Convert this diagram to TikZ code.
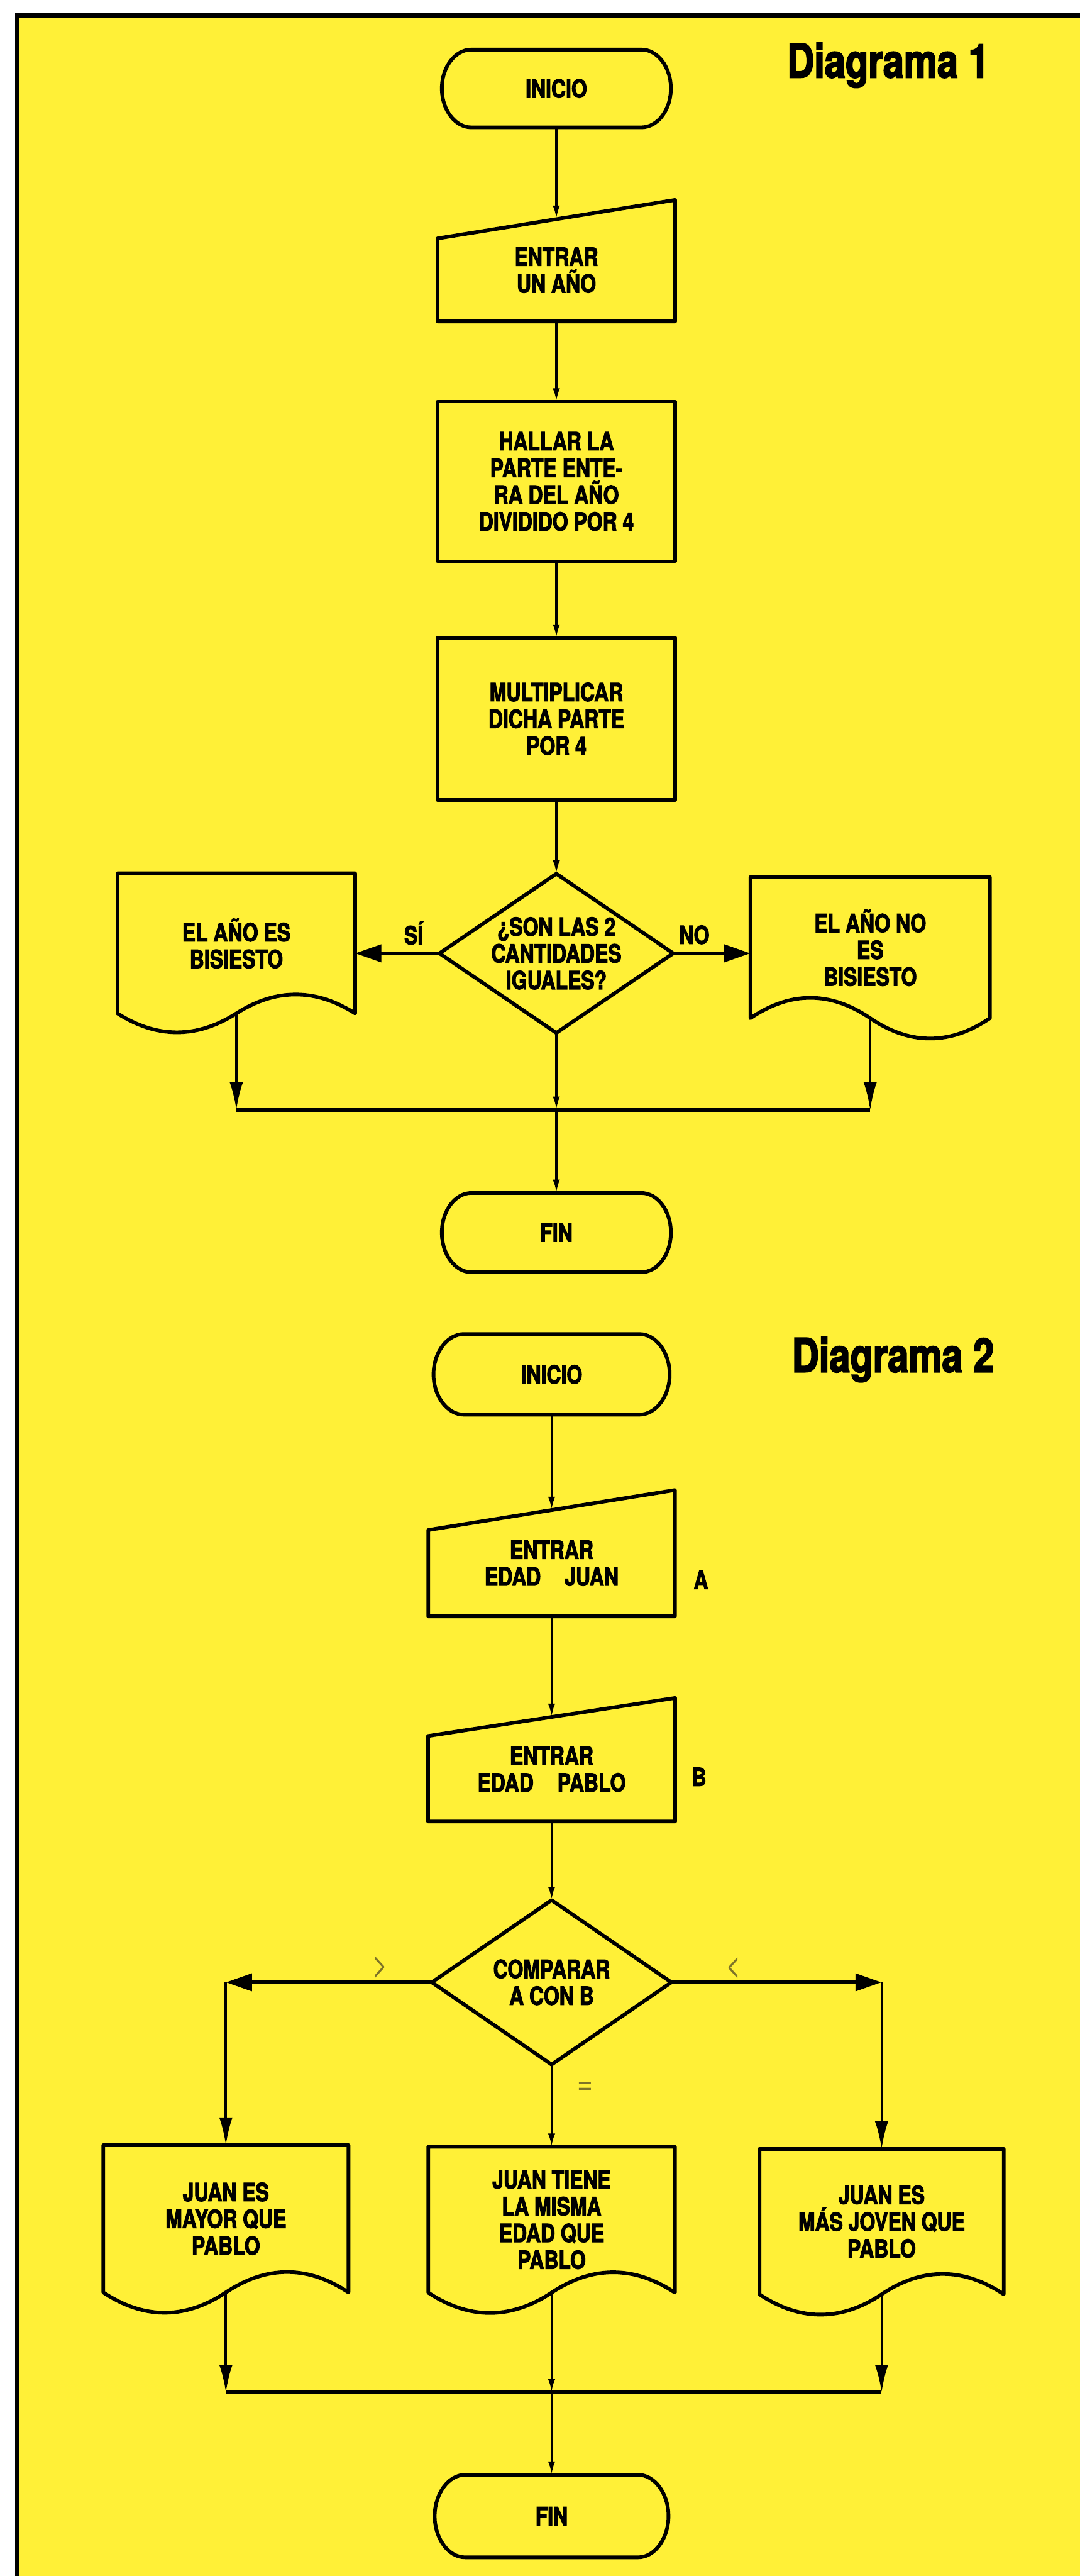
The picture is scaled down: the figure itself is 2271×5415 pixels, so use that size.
\documentclass[tikz,border=0pt]{standalone}
\usepackage{fontspec}
\setmainfont{TeX Gyre Heros}[FakeStretch=0.80,BoldFeatures={FakeBold=2.6}]
\usetikzlibrary{arrows.meta,calc}
\definecolor{pageyellow}{RGB}{255,240,55}
\definecolor{faintink}{RGB}{125,115,40}
\begin{document}
\begin{tikzpicture}[x=0.01cm,y=-0.01cm,
  shapenode/.style={draw=none,rectangle,inner sep=0pt,align=center,font=\bfseries\fontsize{15}{16}\selectfont},
  outl/.style={line width=2.2pt,line join=round,draw=black},
  cn/.style={line width=1.4pt,draw=black},
  hcn/.style={line width=2.1pt,draw=black},
  arsmall/.style={-{Latex[length=0.28cm,width=0.15cm]}},
  arside/.style={-{Latex[length=0.58cm,width=0.28cm]}},
  arbig/.style={-{Triangle[length=0.55cm,width=0.36cm]}},
  lab/.style={inner sep=0pt,font=\bfseries\fontsize{15}{16}\selectfont},
  symb/.style={inner sep=0pt,text=faintink,font=\fontsize{20}{20}\selectfont},
  ttl/.style={inner sep=0pt,anchor=base,font=\bfseries\fontsize{28}{30}\selectfont}
]
\useasboundingbox (0,0) rectangle (2271,5415);
\fill[white] (0,0) rectangle (2271,5415);
\fill[pageyellow] (36,32) rectangle (2271,5415);
\draw[line width=2.5pt] (36,5415) -- (36,32) -- (2271,32);

% ---------------- Diagrama 1 ----------------
\node[ttl] (t1) at (1868,163) {Diagrama 1};

\node[shapenode,minimum width=4.80cm,minimum height=1.62cm] (ini1) at (1170,186) {INICIO};
\node[shapenode,minimum width=4.98cm,minimum height=2.14cm] (in1) at (1170,568) {ENTRAR\\UN AÑO};
\node[shapenode,minimum width=4.97cm,minimum height=3.34cm] (p1) at (1170,1012) {HALLAR LA\\PARTE ENTE-\\RA DEL AÑO\\DIVIDIDO POR 4};
\node[shapenode,minimum width=4.98cm,minimum height=3.39cm] (p2) at (1170,1511) {MULTIPLICAR\\DICHA PARTE\\POR 4};
\node[shapenode,minimum width=4.90cm,minimum height=3.33cm] (dec1) at (1170,2004) {¿SON LAS 2\\CANTIDADES\\IGUALES?};
\node[shapenode,minimum width=4.98cm,minimum height=2.93cm] (dL1) at (497,1983) {EL AÑO ES\\BISIESTO};
\node[shapenode,minimum width=5.02cm,minimum height=2.95cm] (dR1) at (1830,1992) {EL AÑO NO\\ES\\BISIESTO};
\node[shapenode,minimum width=4.80cm,minimum height=1.65cm] (fin1) at (1170,2591) {FIN};

\node[lab] (si1) at (870,1961) {SÍ};
\node[lab] (no1) at (1460,1965) {NO};

% outlines D1
\draw[outl] ([shift={(62,0)}]ini1.north west) -- ([shift={(-62,0)}]ini1.north east)
  .. controls +(34,0) and +(0,-45) .. (ini1.east)
  .. controls +(0,45) and +(34,0) .. ([shift={(-62,0)}]ini1.south east)
  -- ([shift={(62,0)}]ini1.south west)
  .. controls +(-34,0) and +(0,45) .. (ini1.west)
  .. controls +(0,-45) and +(-34,0) .. ([shift={(62,0)}]ini1.north west) -- cycle;
\draw[outl] ([shift={(0,41)}]in1.north west) -- ([shift={(0,-40)}]in1.north east) -- (in1.south east) -- (in1.south west) -- cycle;
\draw[outl] (p1.north west) rectangle (p1.south east);
\draw[outl] (p2.north west) rectangle (p2.south east);
\draw[outl] (dec1.north) -- (dec1.east) -- (dec1.south) -- (dec1.west) -- cycle;
\draw[outl] (dL1.south west) -- (dL1.north west) -- (dL1.north east) -- (dL1.south east)
  .. controls +(-83,-53) and +(83,-53) .. (dL1.south)
  .. controls +(-83,53) and +(83,53) .. (dL1.south west) -- cycle;
\draw[outl] (dR1.south west) -- (dR1.north west) -- (dR1.north east) -- (dR1.south east)
  .. controls +(-84,57) and +(84,57) .. (dR1.south)
  .. controls +(-84,-57) and +(84,-57) .. (dR1.south west) -- cycle;
\draw[outl] ([shift={(62,0)}]fin1.north west) -- ([shift={(-62,0)}]fin1.north east)
  .. controls +(34,0) and +(0,-46) .. (fin1.east)
  .. controls +(0,46) and +(34,0) .. ([shift={(-62,0)}]fin1.south east)
  -- ([shift={(62,0)}]fin1.south west)
  .. controls +(-34,0) and +(0,46) .. (fin1.west)
  .. controls +(0,-46) and +(-34,0) .. ([shift={(62,0)}]fin1.north west) -- cycle;

% connectors D1
\coordinate (m1c) at (1170,2333);
\coordinate (m1l) at (dL1.south |- m1c);
\coordinate (m1r) at (dR1.south |- m1c);
\draw[cn,arsmall] (ini1.south) -- (in1.north);
\draw[cn,arsmall] (in1.south) -- (p1.north);
\draw[cn,arsmall] (p1.south) -- (p2.north);
\draw[cn,arsmall] (p2.south) -- (dec1.north);
\draw[hcn,arbig] (dec1.west) -- (dec1.west -| dL1.east);
\draw[hcn,arbig] (dec1.east) -- (dec1.east -| dR1.west);
\draw[cn,arside] (dL1.south) -- (m1l);
\draw[cn,arside] (dR1.south) -- (m1r);
\draw[hcn] (m1l) -- (m1r);
\draw[cn,arsmall] (dec1.south) -- (m1c);
\draw[cn,arsmall] (m1c) -- (fin1.north);

% ---------------- Diagrama 2 ----------------
\node[ttl] (t2) at (1878,2884) {Diagrama 2};

\node[shapenode,minimum width=4.95cm,minimum height=1.68cm] (ini2) at (1160,2889) {INICIO};
\node[shapenode,minimum width=5.17cm,minimum height=2.22cm] (in2) at (1160,3286) {ENTRAR\\EDAD\hspace{0.5cm}JUAN};
\node[shapenode,minimum width=5.18cm,minimum height=2.18cm] (in3) at (1160,3719) {ENTRAR\\EDAD\hspace{0.5cm}PABLO};
\node[shapenode,minimum width=5.02cm,minimum height=3.44cm] (dec2) at (1160,4167) {COMPARAR\\A CON B};
\node[shapenode,minimum width=5.14cm,minimum height=3.08cm] (dL2) at (475,4664) {JUAN ES\\MAYOR QUE\\PABLO};
\node[shapenode,minimum width=5.17cm,minimum height=3.05cm] (dM2) at (1160,4666) {JUAN TIENE\\LA MISMA\\EDAD QUE\\PABLO};
\node[shapenode,minimum width=5.12cm,minimum height=3.04cm] (dR2) at (1854,4670) {JUAN ES\\MÁS JOVEN QUE\\PABLO};
\node[shapenode,minimum width=4.90cm,minimum height=1.72cm] (fin2) at (1160,5289) {FIN};

\node[lab] (la) at (1474,3321) {A};
\node[lab] (lb) at (1470,3735) {B};
\node[symb] (gt) at (800,4135) {>};
\node[symb] (lt) at (1543,4137) {<};
\node[symb] (eq) at (1231,4390) {=};

% outlines D2
\draw[outl] ([shift={(64,0)}]ini2.north west) -- ([shift={(-64,0)}]ini2.north east)
  .. controls +(35,0) and +(0,-46) .. (ini2.east)
  .. controls +(0,46) and +(35,0) .. ([shift={(-64,0)}]ini2.south east)
  -- ([shift={(64,0)}]ini2.south west)
  .. controls +(-35,0) and +(0,46) .. (ini2.west)
  .. controls +(0,-46) and +(-35,0) .. ([shift={(64,0)}]ini2.north west) -- cycle;
\draw[outl] ([shift={(0,42)}]in2.north west) -- ([shift={(0,-42)}]in2.north east) -- (in2.south east) -- (in2.south west) -- cycle;
\draw[outl] ([shift={(0,40)}]in3.north west) -- ([shift={(0,-40)}]in3.north east) -- (in3.south east) -- (in3.south west) -- cycle;
\draw[outl] (dec2.north) -- (dec2.east) -- (dec2.south) -- (dec2.west) -- cycle;
\draw[outl] (dL2.south west) -- (dL2.north west) -- (dL2.north east) -- (dL2.south east)
  .. controls +(-86,-57) and +(86,-57) .. (dL2.south)
  .. controls +(-86,57) and +(86,57) .. (dL2.south west) -- cycle;
\draw[outl] (dM2.south west) -- (dM2.north west) -- (dM2.north east) -- (dM2.south east)
  .. controls +(-86,-57) and +(86,-57) .. (dM2.south)
  .. controls +(-86,57) and +(86,57) .. (dM2.south west) -- cycle;
\draw[outl] (dR2.south west) -- (dR2.north west) -- (dR2.north east) -- (dR2.south east)
  .. controls +(-85,-57) and +(85,-57) .. (dR2.south)
  .. controls +(-85,57) and +(85,57) .. (dR2.south west) -- cycle;
\draw[outl] ([shift={(64,0)}]fin2.north west) -- ([shift={(-64,0)}]fin2.north east)
  .. controls +(35,0) and +(0,-47) .. (fin2.east)
  .. controls +(0,47) and +(35,0) .. ([shift={(-64,0)}]fin2.south east)
  -- ([shift={(64,0)}]fin2.south west)
  .. controls +(-35,0) and +(0,47) .. (fin2.west)
  .. controls +(0,-47) and +(-35,0) .. ([shift={(64,0)}]fin2.north west) -- cycle;

% connectors D2
\coordinate (c2l) at (dec2.west -| dL2.north);
\coordinate (c2r) at (dec2.east -| dR2.north);
\coordinate (m2c) at (1160,5029);
\coordinate (m2l) at (dL2.south |- m2c);
\coordinate (m2r) at (dR2.south |- m2c);
\draw[cn,arsmall] (ini2.south) -- (in2.north);
\draw[cn,arsmall] (in2.south) -- (in3.north);
\draw[cn,arsmall] (in3.south) -- (dec2.north);
\draw[hcn,arbig] (dec2.west) -- (c2l);
\draw[hcn,arbig] (dec2.east) -- (c2r);
\draw[cn,arside] (c2l) -- (dL2.north);
\draw[cn,arside] (c2r) -- (dR2.north);
\draw[cn,arsmall] (dec2.south) -- (dM2.north);
\draw[cn,arside] (dL2.south) -- (m2l);
\draw[cn,arside] (dR2.south) -- (m2r);
\draw[hcn] (m2l) -- (m2r);
\draw[cn,arsmall] (dM2.south) -- (m2c);
\draw[cn,arsmall] (m2c) -- (fin2.north);
\end{tikzpicture}
\end{document}
